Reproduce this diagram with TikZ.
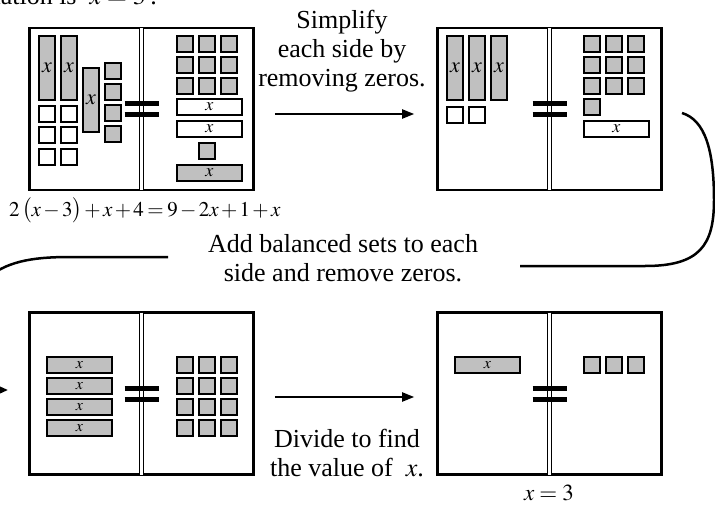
\documentclass[tikz,border=0pt]{standalone}
\usepackage{mathptmx}
\usepackage{fontspec}
\setmainfont{Liberation Serif}
\usepackage{tikz}
\usetikzlibrary{calc}
\usetikzlibrary{arrows.meta}
\definecolor{tilegray}{RGB}{192,192,192}
\tikzset{
    panel/.style={draw, line width=2.6pt, minimum width=224pt, minimum height=162pt, inner sep=0pt},
    divider/.style={double, line width=1.7pt, double distance=2.4pt},
    eqbar/.style={line width=5pt},
    unit/.style={draw, line width=1.6pt, fill=tilegray},
    zero/.style={draw, line width=1.6pt, fill=white},
    tilex/.style={font=\fontsize{#1}{#1}\selectfont, inner sep=0pt},
    tilex/.default=22,
    lbl/.style={font=\fontsize{26}{29}\selectfont, align=center, inner sep=0pt},
    mathlbl/.style={font=\fontsize{23}{26}\selectfont, inner sep=0pt},
    arr/.style={line width=2pt, -{Triangle[length=12pt,width=9pt]}},
    curve/.style={line width=2.5pt},
    curvearr/.style={line width=2.5pt, -{Triangle[length=12pt,width=10pt]}}
}
\begin{document}
\begin{tikzpicture}[x=1pt,y=-1pt]
\useasboundingbox (0,0) rectangle (715,506);
\clip (0,0) rectangle (715,506);
\node[panel] (P1) at (141.5,109) {};
\node[panel] (P2) at (549.5,109) {};
\node[panel] (P3) at (141.5,393.5) {};
\node[panel] (P4) at (549.5,393.5) {};
\draw[divider] ([yshift=-1.3pt]P1.north) -- ([yshift=1.3pt]P1.south);
\draw[divider] ([yshift=-1.3pt]P2.north) -- ([yshift=1.3pt]P2.south);
\draw[divider] ([yshift=-1.3pt]P3.north) -- ([yshift=1.3pt]P3.south);
\draw[divider] ([yshift=-1.3pt]P4.north) -- ([yshift=1.3pt]P4.south);
\draw[eqbar] ([shift={(-17,-5.5)}]P1.center) -- ++(34,0) ([shift={(-17,5.5)}]P1.center) -- ++(34,0);
\draw[eqbar] ([shift={(-17,-5.5)}]P2.center) -- ++(34,0) ([shift={(-17,5.5)}]P2.center) -- ++(34,0);
\draw[eqbar] ([shift={(-17,-5.5)}]P3.center) -- ++(34,0) ([shift={(-17,5.5)}]P3.center) -- ++(34,0);
\draw[eqbar] ([shift={(-17,-5.5)}]P4.center) -- ++(34,0) ([shift={(-17,5.5)}]P4.center) -- ++(34,0);
\draw[unit] (39,36) rectangle (55,100) node[midway,tilex] (xa) {$x$};
\draw[unit] (61,36) rectangle (77,100) node[midway,tilex] (xb) {$x$};
\draw[unit] (83,68) rectangle (99,132) node[midway,tilex] (xc) {$x$};
\draw[zero] (39,106) rectangle ++(16,16) (61,106) rectangle ++(16,16) (39,127) rectangle ++(16,16) (61,127) rectangle ++(16,16) (39,149) rectangle ++(16,16) (61,149) rectangle ++(16,16);
\draw[unit] (105,63) rectangle ++(16,16) (105,84) rectangle ++(16,16) (105,105) rectangle ++(16,16) (105,126) rectangle ++(16,16);
\draw[unit] (177,36) rectangle ++(16,16) (199,36) rectangle ++(16,16) (221,36) rectangle ++(16,16) (177,57) rectangle ++(16,16) (199,57) rectangle ++(16,16) (221,57) rectangle ++(16,16) (177,78) rectangle ++(16,16) (199,78) rectangle ++(16,16) (221,78) rectangle ++(16,16);
\draw[zero] (177,99) rectangle (242,115) node[midway,tilex=18] (xd) {$x$};
\draw[zero] (177,121) rectangle (242,137) node[midway,tilex=18] (xe) {$x$};
\draw[unit] (199,143) rectangle ++(16,16);
\draw[unit] (177,165) rectangle (242,181) node[midway,tilex=18] (xf) {$x$};
\draw[unit] (447,36) rectangle (463,100) node[midway,tilex] (xg) {$x$};
\draw[unit] (469,36) rectangle (485,100) node[midway,tilex] (xh) {$x$};
\draw[unit] (491,36) rectangle (507,100) node[midway,tilex] (xi) {$x$};
\draw[zero] (447,107) rectangle ++(16,16) (469,107) rectangle ++(16,16);
\draw[unit] (584,36) rectangle ++(16,16) (606,36) rectangle ++(16,16) (628,36) rectangle ++(16,16) (584,57) rectangle ++(16,16) (606,57) rectangle ++(16,16) (628,57) rectangle ++(16,16) (584,78) rectangle ++(16,16) (606,78) rectangle ++(16,16) (628,78) rectangle ++(16,16) (584,99) rectangle ++(16,16);
\draw[zero] (584,121) rectangle (649,137) node[midway,tilex=18] (xj) {$x$};
\draw[unit] (47,357) rectangle (112,373) node[midway,tilex=16] (xk) {$x$};
\draw[unit] (47,378) rectangle (112,394) node[midway,tilex=16] (xl) {$x$};
\draw[unit] (47,399) rectangle (112,415) node[midway,tilex=16] (xm) {$x$};
\draw[unit] (47,420) rectangle (112,436) node[midway,tilex=16] (xn) {$x$};
\draw[unit] (177,357) rectangle ++(16,16) (199,357) rectangle ++(16,16) (221,357) rectangle ++(16,16) (177,378) rectangle ++(16,16) (199,378) rectangle ++(16,16) (221,378) rectangle ++(16,16) (177,399) rectangle ++(16,16) (199,399) rectangle ++(16,16) (221,399) rectangle ++(16,16) (177,420) rectangle ++(16,16) (199,420) rectangle ++(16,16) (221,420) rectangle ++(16,16);
\draw[unit] (455,357) rectangle (520,373) node[midway,tilex=16] (xo) {$x$};
\draw[unit] (584,357) rectangle ++(16,16) (606,357) rectangle ++(16,16) (628,357) rectangle ++(16,16);
\node[lbl, anchor=base east] (sol) at (157,5) {equation is\ \ $x=3$\,.};
\node[mathlbl, font=\fontsize{21}{24}\selectfont, anchor=base west] (eq) at (9,216) {$\medmuskip=2mu \thickmuskip=3mu 2\,\bigl(x-3\bigr)+x+4=9-2x+1+x$};
\node[mathlbl, anchor=base] (res) at (549,500) {$x=3$};
\node[lbl, anchor=north] (simp) at (342,10) {Simplify\\each side by\\removing zeros.};
\node[lbl, anchor=north] (bal) at (343,234) {Add balanced sets to each\\side and remove zeros.};
\node[lbl, anchor=north] (div) at (347,429) {Divide to find\\the value of\ \ $x$.};
\draw[arr] ([shift={(20,5)}]P1.east) -- ([shift={(-22,5)}]P2.west);
\draw[arr] ([shift={(20,3.5)}]P3.east) -- ([shift={(-22,3.5)}]P4.west);
\coordinate (r1) at (682,113);
\coordinate (r2) at (520,266);
\coordinate (l1) at (168,257);
\coordinate (l2) at (8,390);
\draw[curve] (r1) .. controls (705,120) and (714,150) .. (714,200) .. controls (714,245) and (700,266) .. (645,266) -- (r2);
\draw[curvearr] (l1) -- (70,257) .. controls (30,257) and (5,262) .. (-15,280) .. controls (-40,305) and (-40,390) .. (-10,390) -- (l2);
\end{tikzpicture}
\end{document}
